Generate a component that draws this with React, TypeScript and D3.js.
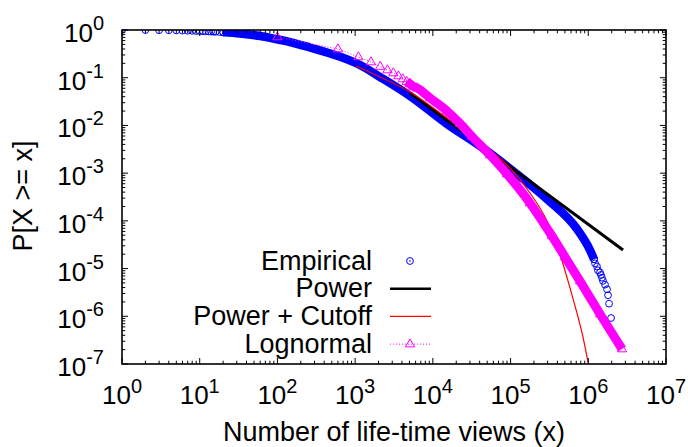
import React from "react";
import * as d3 from "d3";

const W = 688;
const H = 447;
const PL = 122, PR = 666, PT = 30, PB = 364;

const xTickExps = [0, 1, 2, 3, 4, 5, 6, 7];
const yTickExps = [0, -1, -2, -3, -4, -5, -6, -7];

// Empirical CCDF: sparse low-x points
const empSparseX = [1, 2, 3, 4, 5, 6, 7, 8, 9, 10, 11, 12, 13, 14, 15, 16, 18, 20];
const empSparseP = [1, 0.995, 0.99, 0.984, 0.978, 0.972, 0.966, 0.96, 0.954, 0.948, 0.943, 0.937, 0.932, 0.926, 0.921, 0.916, 0.905, 0.895];
// Empirical CCDF: dense band
const empBandX = [20, 33, 60, 102, 145, 262, 602, 1155, 2091, 5083, 15200, 40440, 107500, 294200, 716000, 1.05e6, 1.186e6];
const empBandP = [0.895, 0.845, 0.748, 0.632, 0.56, 0.43, 0.285, 0.1846, 0.1035, 0.0414, 0.01071, 0.0037, 0.00111, 2.87e-4, 6.74e-5, 2.45e-5, 1.564e-5];
// Empirical CCDF: tail points
const empTailX = [1.963e6, 1.85e6, 1.795e6, 1.742e6, 1.641e6, 1.546e6, 1.5e6, 1.456e6, 1.415e6, 1.333e6, 1.294e6, 1.22e6, 1.186e6];
const empTailP = [9.2e-7, 1.84e-6, 2.76e-6, 3.68e-6, 4.6e-6, 5.52e-6, 6.44e-6, 7.36e-6, 8.28e-6, 9.2e-6, 1.104e-5, 1.288e-5, 1.564e-5];

// Power-law fit
const powerX = [5083, 2.8e6];
const powerP = [0.0478, 2.45e-5];

// Power law with cutoff fit
const cutoffX = [1026, 2091, 5083, 15200, 40440, 98400, 177900, 277500, 373200, 473000, 582100, 737900, 855300, 963400, 1.052e6];
const cutoffP = [0.176, 0.1035, 0.0502, 0.0143, 0.004493, 0.001281, 3.833e-4, 1.204e-4, 3.97e-5, 1.246e-5, 3.91e-6, 9.65e-7, 3.67e-7, 1.4e-7, 6.8e-8];

// Lognormal fit: sparse markers
const logSparseX = [100, 600, 1100, 1600, 2100, 2600, 3100, 3600, 4100, 4600];
const logSparseP = [0.713, 0.4, 0.272, 0.2135, 0.1717, 0.145, 0.1255, 0.1086, 0.094, 0.0833];
// Lognormal fit: dense band
const logBandX = [4600, 5100, 5600, 6252, 9190, 15200, 22350, 31890, 54410, 90000, 177900, 341200, 502100, 783100, 1.416e6, 2.717e6];
const logBandP = [0.0833, 0.0738, 0.0654, 0.0608, 0.0376, 0.02005, 0.01097, 0.00586, 0.0024, 9.59e-4, 2.366e-4, 4.81e-5, 1.745e-5, 5.48e-6, 1.115e-6, 2.06e-7];

const legendLabels = ["Empirical", "Power", "Power + Cutoff", "Lognormal"];

const FONT = "'Liberation Sans', Arial, Helvetica, sans-serif";
const BLUE = "#0000ff";
const MAG = "#ff00ff";
const RED = "#ff0000";

const zip = (xs: number[], ps: number[]) => xs.map((x, i) => [x, ps[i]] as [number, number]);

export default function App() {
  const x = d3.scaleLog().domain([1, 1e7]).range([PL, PR]);
  const y = d3.scaleLog().domain([1e-7, 1]).range([PB, PT]);
  const line = d3
    .line<[number, number]>()
    .x((d) => x(d[0]))
    .y((d) => y(d[1]));
  const smooth = d3
    .line<[number, number]>()
    .x((d) => x(d[0]))
    .y((d) => y(d[1]))
    .curve(d3.curveMonotoneX);

  const empSparse = zip(empSparseX, empSparseP);
  const empBand = zip(empBandX, empBandP);
  const empTail = zip(empTailX, empTailP);
  const power = zip(powerX, powerP);
  const cutoff = zip(cutoffX, cutoffP);
  const logSparse = zip(logSparseX, logSparseP);
  const logBand = zip(logBandX, logBandP);
  const logAll = [...logSparse, ...logBand.slice(1)];

  const tri = (cx: number, cy: number) =>
    `M${cx},${cy - 5.2}L${cx + 4.6},${cy + 2.8}L${cx - 4.6},${cy + 2.8}Z`;

  // ticks
  const minor: number[] = [];
  for (let e = 0; e < 7; e++) for (let m = 2; m <= 9; m++) minor.push(m * 10 ** e);
  const minorY: number[] = [];
  for (let e = -7; e < 0; e++) for (let m = 2; m <= 9; m++) minorY.push(m * 10 ** e);

  const tickEls: React.ReactNode[] = [];
  xTickExps.forEach((e) => {
    const px = x(10 ** e);
    tickEls.push(<line key={"xb" + e} x1={px} x2={px} y1={PB} y2={PB - 6} />);
    tickEls.push(<line key={"xt" + e} x1={px} x2={px} y1={PT} y2={PT + 6} />);
  });
  minor.forEach((v, i) => {
    const px = x(v);
    tickEls.push(<line key={"xbm" + i} x1={px} x2={px} y1={PB} y2={PB - 3.3} />);
    tickEls.push(<line key={"xtm" + i} x1={px} x2={px} y1={PT} y2={PT + 3.3} />);
  });
  yTickExps.forEach((e) => {
    const py = y(10 ** e);
    tickEls.push(<line key={"yl" + e} x1={PL} x2={PL + 6} y1={py} y2={py} />);
    tickEls.push(<line key={"yr" + e} x1={PR} x2={PR - 6} y1={py} y2={py} />);
  });
  minorY.forEach((v, i) => {
    const py = y(v);
    tickEls.push(<line key={"ylm" + i} x1={PL} x2={PL + 3.3} y1={py} y2={py} />);
    tickEls.push(<line key={"yrm" + i} x1={PR} x2={PR - 3.3} y1={py} y2={py} />);
  });

  const legendBase = 269.5;
  const legendStep = 27.7;

  return (
    <svg width={W} height={H} style={{ position: "absolute", left: 0, top: 0, background: "#fff" }} fontFamily={FONT}>
      <defs>
        <clipPath id="plotclip">
          <rect x={PL} y={PT} width={PR - PL} height={PB - PT} />
        </clipPath>
      </defs>
      <rect x={0} y={0} width={W} height={H} fill="#fff" />

      <g clipPath="url(#plotclip)">
        {/* Empirical */}
        <path d={smooth(empBand) || ""} fill="none" stroke={BLUE} strokeWidth={8.5} strokeLinejoin="round" />
        {[...empSparse, ...empBand, ...empTail].map((d, i) => (
          <circle key={"e" + i} cx={x(d[0])} cy={y(d[1])} r={3.4} fill="none" stroke={BLUE} strokeWidth={1} />
        ))}
        {/* Power */}
        <path d={line(power) || ""} fill="none" stroke="#000" strokeWidth={3} />
        {/* Cutoff */}
        <path d={smooth(cutoff) || ""} fill="none" stroke={RED} strokeWidth={1.2} />
        {/* Lognormal */}
        <path d={smooth(logBand) || ""} fill="none" stroke={MAG} strokeWidth={9} strokeLinejoin="round" />
        <path d={line(logAll) || ""} fill="none" stroke={MAG} strokeWidth={1} strokeDasharray="1,2" />
        {logAll.map((d, i) => (
          <path key={"l" + i} d={tri(x(d[0]), y(d[1]))} fill="none" stroke={MAG} strokeWidth={1} />
        ))}
      </g>

      {/* frame and ticks */}
      <g stroke="#000" strokeWidth={1}>{tickEls}</g>
      <rect x={PL} y={PT} width={PR - PL} height={PB - PT} fill="none" stroke="#000" strokeWidth={1.6} />

      {/* tick labels */}
      {xTickExps.map((e) => (
        <text key={"xl" + e} x={x(10 ** e)} y={404} textAnchor="middle" fontSize={26} fill="#000">
          10<tspan dy={-11.5} fontSize={20}>{e}</tspan>
        </text>
      ))}
      {yTickExps.map((e) => (
        <text key={"yl" + e} x={104} y={y(10 ** e) + 12} textAnchor="end" fontSize={26} fill="#000">
          10<tspan dy={-12} fontSize={20}>{e === 0 ? "0" : "-" + Math.abs(e)}</tspan>
        </text>
      ))}

      {/* axis titles */}
      <text x={394} y={441} textAnchor="middle" fontSize={27} fill="#000">
        Number of life-time views (x)
      </text>
      <text transform="translate(32,196) rotate(-90)" textAnchor="middle" fontSize={27} fill="#000">
        P[X &gt;= x]
      </text>

      {/* legend */}
      {legendLabels.map((lab, i) => {
        const by = legendBase + legendStep * i;
        const cy = by - 8.5;
        return (
          <g key={"lg" + i}>
            <text x={372} y={by} textAnchor="end" fontSize={27} fill="#000">
              {lab}
            </text>
            {i === 0 && (
              <g>
                <circle cx={410} cy={cy} r={3.4} fill="none" stroke={BLUE} strokeWidth={1} />
                <circle cx={410} cy={cy} r={0.8} fill={BLUE} />
              </g>
            )}
            {i === 1 && <line x1={390} x2={431} y1={cy} y2={cy} stroke="#000" strokeWidth={2.5} />}
            {i === 2 && <line x1={390} x2={431} y1={cy} y2={cy} stroke={RED} strokeWidth={1.2} />}
            {i === 3 && (
              <g>
                <line x1={390} x2={431} y1={cy} y2={cy} stroke={MAG} strokeWidth={1} strokeDasharray="1,2" />
                <path d={tri(410, cy)} fill="none" stroke={MAG} strokeWidth={1} />
              </g>
            )}
          </g>
        );
      })}
    </svg>
  );
}
